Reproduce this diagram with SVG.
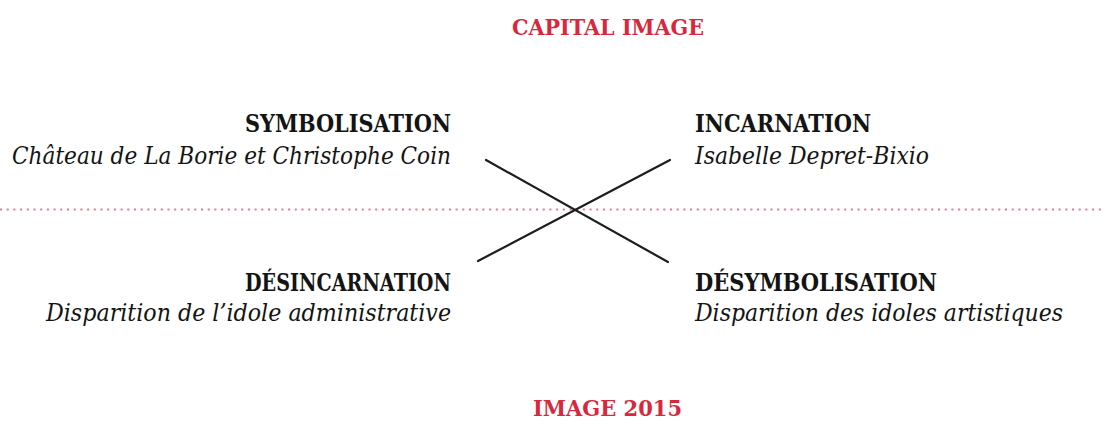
<svg xmlns="http://www.w3.org/2000/svg" width="1104" height="421" viewBox="0 0 1104 421">
<style>
.t{font-family:"DejaVu Serif","Liberation Serif",serif;font-size:24px;fill:#141414}
.b{font-weight:bold}
.i{font-style:italic}
.r{fill:#d8283d;font-weight:bold;font-size:22px}
.x{stroke:#1e1e1e;stroke-width:2.2;stroke-linecap:round;fill:none}
.d{stroke:#e57a86;stroke-width:2;stroke-dasharray:2 4.7;fill:none}
</style>
<rect width="1104" height="421" fill="#ffffff"/>
<g id="connectors">
<line class="d" x1="0" y1="209.5" x2="1104" y2="209.5"/>
<line class="x" x1="486" y1="160" x2="668" y2="262"/>
<line class="x" x1="478" y1="261" x2="670" y2="160"/>
</g>
<g id="capital-image"><text class="t r" x="512" y="35" textLength="192" lengthAdjust="spacingAndGlyphs">CAPITAL IMAGE</text></g>
<g id="image-2015"><text class="t r" x="533" y="416" textLength="149" lengthAdjust="spacingAndGlyphs">IMAGE 2015</text></g>
<g id="symbolisation">
<text class="t b" x="245" y="132" textLength="206" lengthAdjust="spacingAndGlyphs">SYMBOLISATION</text>
<text class="t i" x="12" y="164" textLength="439" lengthAdjust="spacingAndGlyphs">Château de La Borie et Christophe Coin</text>
</g>
<g id="incarnation">
<text class="t b" x="695" y="132" textLength="176" lengthAdjust="spacingAndGlyphs">INCARNATION</text>
<text class="t i" x="695" y="164" textLength="234" lengthAdjust="spacingAndGlyphs">Isabelle Depret-Bixio</text>
</g>
<g id="desincarnation">
<text class="t b" x="245" y="291" textLength="206" lengthAdjust="spacingAndGlyphs">DÉSINCARNATION</text>
<text class="t i" x="46" y="321" textLength="405" lengthAdjust="spacingAndGlyphs">Disparition de l’idole administrative</text>
</g>
<g id="desymbolisation">
<text class="t b" x="695" y="291" textLength="242" lengthAdjust="spacingAndGlyphs">DÉSYMBOLISATION</text>
<text class="t i" x="695" y="321" textLength="368" lengthAdjust="spacingAndGlyphs">Disparition des idoles artistiques</text>
</g>
</svg>
